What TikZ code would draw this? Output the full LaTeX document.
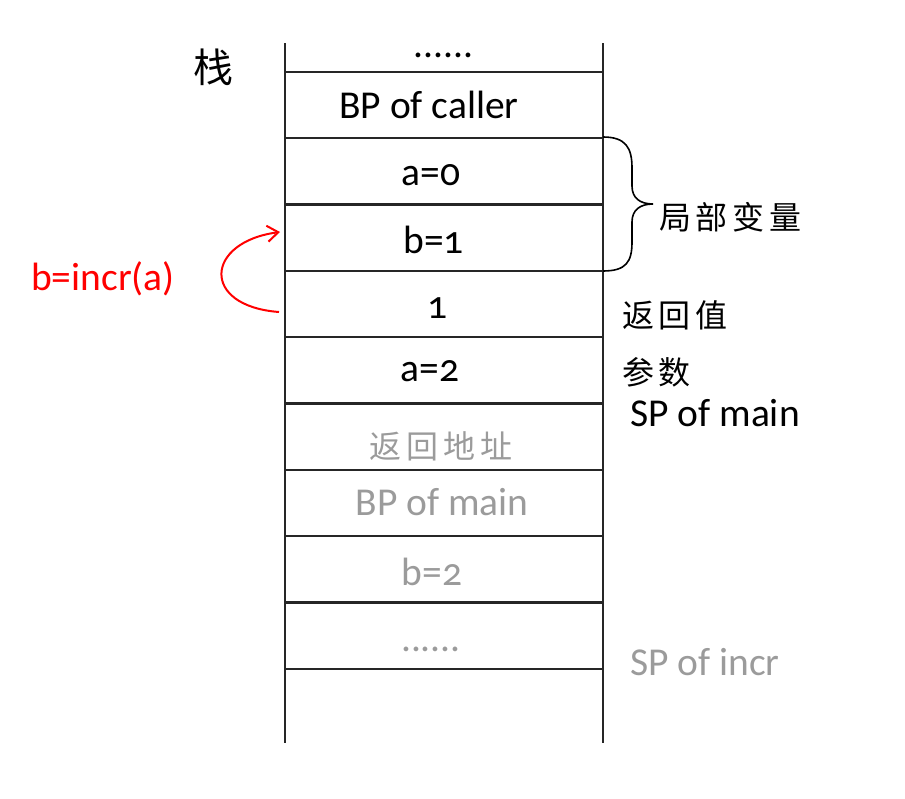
\documentclass[tikz,border=0pt]{standalone}
\usepackage{fontspec}
\setmainfont{Carlito}[Numbers=OldStyle]
\newfontfamily\cjk{Noto Sans CJK SC}[LetterSpace=15]
\newfontfamily\cjkplain{Noto Sans CJK SC}
\usetikzlibrary{arrows.meta}
\definecolor{txtgray}{RGB}{155,155,155}
\begin{document}
\begin{tikzpicture}[x=1pt,y=-1pt,
  stackline/.style={line width=2.2pt, black!85},
  lbl/.style={font=\fontsize{39.5}{42}\selectfont, inner sep=0pt, anchor=center},
  glbl/.style={lbl, text=txtgray},
  cn/.style={font=\fontsize{32}{35}\selectfont\cjk, inner sep=0pt, anchor=center},
  gcn/.style={cn, text=txtgray},
  callarrow/.style={draw=red, line width=2pt, -{Straight Barb[length=11pt,width=16pt,line width=2pt]}},
  bracestyle/.style={line width=1.6pt, black}
]
\useasboundingbox (0,0) rectangle (905,798);

% stack frame
\draw[stackline] (285,43) -- (285,743);
\draw[stackline] (603,43) -- (603,743);
\foreach \yy in {72,138,204.5,271,337,403.5,470,536,602.5,669}{
  \draw[stackline] (285,\yy) -- (603,\yy);
}

% cell texts
\node[lbl] (dotsTop) at (443.5,55) {......};
\node[lbl] (bpcaller) at (429,105) {BP of caller};
\node[lbl] (a0) at (431,175) {a=0};
\node[lbl] (b1) at (433.5,240) {b=1};
\node[lbl] (ret1) at (438,308) {1};
\node[lbl] (a2) at (430,371) {a=2};
\node[gcn] (retaddr) at (441,446) {返回地址};
\node[glbl] (bpmain) at (442,502) {BP of main};
\node[glbl] (b2) at (432,572) {b=2};
\node[glbl] (dotsBot) at (431,649) {......};

% left labels
\node[font=\fontsize{40}{42}\selectfont\cjkplain, inner sep=0pt] (stack) at (213,67) {栈};
\node[lbl, text=red] (call) at (103,279) {b=incr(a)};

% right labels
\node[cn, anchor=west] (locals) at (659,217) {局部变量};
\node[cn, anchor=west] (retval) at (622,315) {返回值};
\node[cn, anchor=west] (params) at (622,372) {参数};
\node[lbl, anchor=west] (spmain) at (630,413) {SP of main};
\node[glbl, anchor=west] (spincr) at (630,662) {SP of incr};

% brace
\coordinate (bt) at (603,137);
\coordinate (bb) at (603,271);
\coordinate (btip) at (653,204);
\draw[bracestyle] (bt) .. controls (626,137) and (632,148) .. (632,168)
  -- (632,186) .. controls (632,198) and (640,204) .. (btip)
  .. controls (640,204) and (632,210) .. (632,222)
  -- (632,242) .. controls (632,262) and (626,271) .. (bb);

% call arrow
\coordinate (arrS) at (279,312);
\coordinate (arrE) at (280,232);
\draw[callarrow] (arrS) .. controls (200,306) and (205,242) .. (arrE);
\end{tikzpicture}
\end{document}
